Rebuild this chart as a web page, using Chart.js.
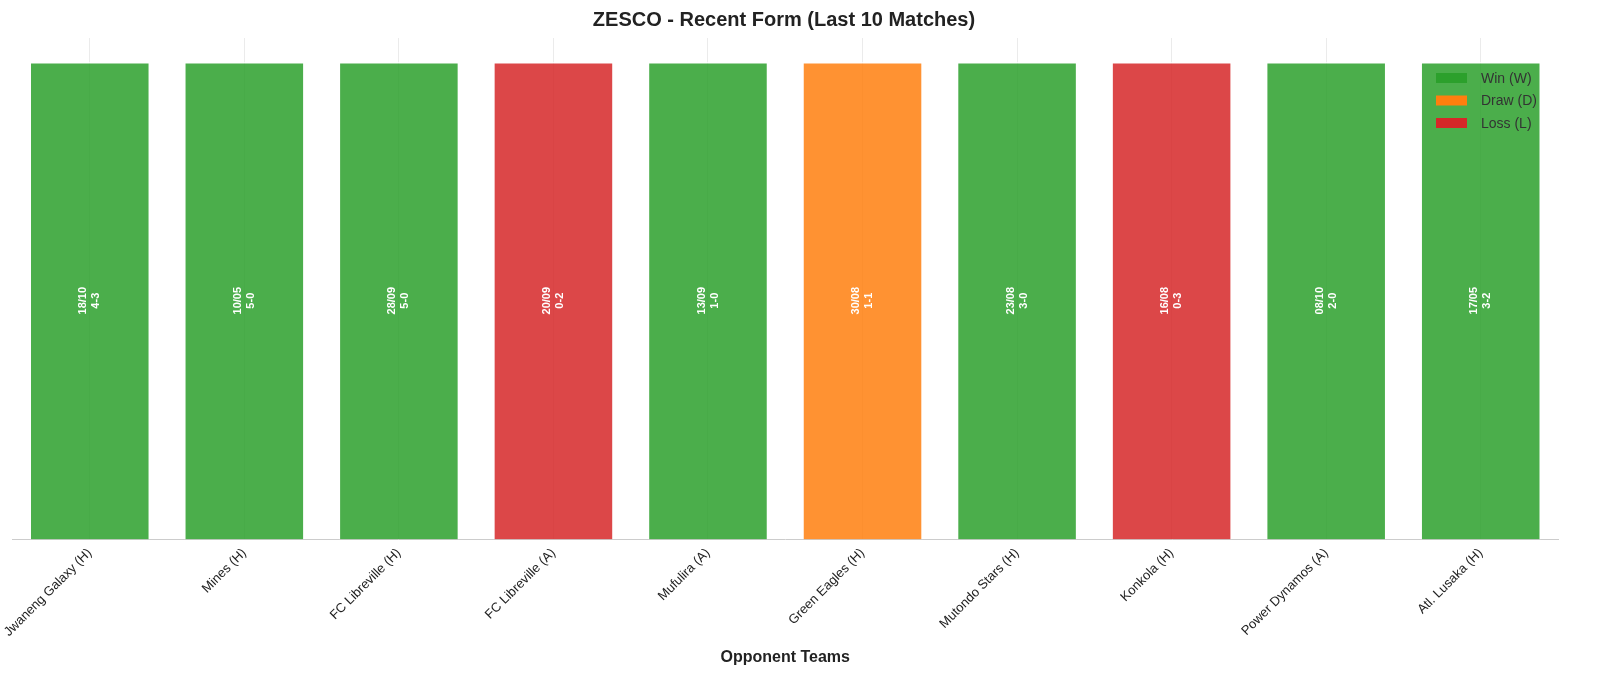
<!DOCTYPE html>
<html><head><meta charset="utf-8">
<script src="https://cdn.jsdelivr.net/npm/chart.js@4/dist/chart.umd.min.js"></script>
<style>html,body{margin:0;padding:0;background:#fff}#w{width:1600px;height:679px}</style>
</head><body><div id="w"><canvas id="c"></canvas></div>
<script>
const opponents=["Jwaneng Galaxy (H)","Mines (H)","FC Libreville (H)","FC Libreville (A)","Mufulira (A)","Green Eagles (H)","Mutondo Stars (H)","Konkola (H)","Power Dynamos (A)","Atl. Lusaka (H)"];
const results=["W","W","W","L","W","D","W","L","W","W"];
const dates=["18/10","10/05","28/09","20/09","13/09","30/08","23/08","16/08","08/10","17/05"];
const scores=["4-3","5-0","5-0","0-2","1-0","1-1","3-0","0-3","2-0","3-2"];
const values=[1,1,1,1,1,1,1,1,1,1];
const legendLabels=[["W","Win (W)"],["D","Draw (D)"],["L","Loss (L)"]];
const colors={W:"rgba(44,160,44,0.85)",D:"rgba(255,127,14,0.85)",L:"rgba(214,39,40,0.85)"};
const solid={W:"#2ca02c",D:"#ff7f0e",L:"#d62728"};
const F="'Liberation Sans', Arial, sans-serif";
const labelPlugin={id:'lbl',afterDatasetsDraw(ch){
 const ctx=ch.ctx, meta=ch.getDatasetMeta(0);
 ctx.save();ctx.fillStyle="#fff";ctx.font="bold 11px "+F;ctx.textAlign="center";ctx.textBaseline="middle";
 meta.data.forEach((b,i)=>{const y=(b.y+b.base)/2;ctx.save();ctx.translate(b.x,y);ctx.rotate(-Math.PI/2);
  ctx.fillText(dates[i],0,-6.5);ctx.fillText(scores[i],0,6.5);ctx.restore();});
 ctx.font="14px "+F;ctx.textAlign="left";
 legendLabels.forEach((l,i)=>{const y=78+i*22.5;ctx.fillStyle=solid[l[0]];ctx.fillRect(1436,y-5,31,10);
  ctx.fillStyle="#333";ctx.fillText(l[1],1481,y+1);});
 ctx.restore();}};
new Chart(document.getElementById('c'),{type:'bar',
 data:{labels:opponents,datasets:[{data:values,backgroundColor:results.map(r=>colors[r]),borderColor:"rgba(255,255,255,0.7)",borderWidth:1.5,barPercentage:0.78,categoryPercentage:1}]},
 options:{responsive:true,maintainAspectRatio:false,animation:false,
  layout:{padding:{left:10,right:42,top:0,bottom:8}},
  plugins:{legend:{display:false},tooltip:{enabled:false},
   title:{display:true,text:"ZESCO - Recent Form (Last 10 Matches)",font:{family:F,size:20,weight:'bold'},color:"#222",padding:{top:8,bottom:6}}},
  scales:{
   x:{grid:{offset:false,color:"rgba(0,0,0,0.08)",drawTicks:false},border:{color:"#ccc"},
    ticks:{minRotation:45,maxRotation:45,color:"#222",font:{family:F,size:13},padding:6},
    title:{display:true,text:"Opponent Teams",font:{family:F,size:16,weight:'bold'},color:"#222",padding:{top:2}}},
   y:{min:0,max:1.05,display:false}}},
 plugins:[labelPlugin]});
</script></body></html>
